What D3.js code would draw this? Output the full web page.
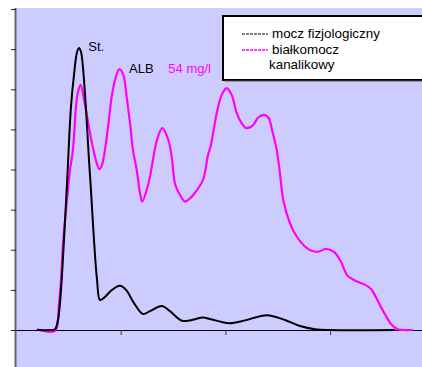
<!DOCTYPE html>
<html><head><meta charset="utf-8">
<script src="https://cdn.jsdelivr.net/npm/d3@7"></script>
<style>html,body{margin:0;padding:0;background:#fff;}svg{display:block;}</style>
</head><body>
<script>
// Data (x: migration distance units, y: relative absorbance)
const seriesNames = ["mocz fizjologiczny", "białkomocz", "kanalikowy"];
const blackX = [2.0,3.25,3.72,4.01,4.30,4.58,4.87,5.25,5.54,5.83,6.02,6.21,6.40,6.69,6.97,7.16,7.45,7.74,8.02,8.40,9.17,9.93,10.51,11.27,12.13,12.80,13.94,14.71,15.85,16.81,17.86,18.62,20.34,21.87,23.97,25.69,27.13,28.56,29.99,36.2];
const blackY = [0,0,0.02,0.25,1.0,2.24,3.64,5.56,6.36,6.93,7.03,6.93,6.53,5.49,4.24,3.49,2.24,1.25,0.75,0.80,1.0,1.10,1.0,0.67,0.40,0.47,0.60,0.47,0.23,0.25,0.31,0.27,0.17,0.24,0.37,0.25,0.10,0.02,0,0];
const magX = [2.01,2.58,3.15,3.72,3.92,4.11,4.30,4.49,4.87,5.16,5.44,5.73,5.92,6.18,6.50,6.88,7.33,7.71,7.96,8.21,8.50,8.79,9.14,9.46,9.87,10.25,10.57,10.89,11.17,11.53,11.84,12.06,12.48,12.80,13.08,13.47,13.97,14.55,14.87,15.19,15.57,16.14,16.62,17.10,17.86,18.34,18.62,19.17,19.65,20.11,20.60,21.08,21.56,22.02,22.66,23.11,23.69,24.12,24.45,24.90,25.21,25.53,26.17,26.81,27.60,28.18,28.84,29.61,30.40,31.04,31.68,32.64,33.33,33.91,34.38,34.86,35.34,35.82,36.46,37.06,37.89];
const magY = [0.02,-0.02,-0.05,-0.02,0.07,0.65,1.25,2.14,3.24,3.99,4.49,5.56,5.94,6.11,5.74,5.19,4.56,4.16,4.01,4.11,4.49,5.06,5.81,6.23,6.50,6.36,5.81,5.16,4.49,3.99,3.42,3.20,3.49,3.82,4.24,4.74,5.03,4.74,4.32,3.64,3.41,3.20,3.28,3.42,3.74,4.36,4.61,5.40,5.86,6.03,5.86,5.41,5.15,5.03,5.11,5.29,5.36,5.29,4.99,4.49,3.91,3.24,2.66,2.33,2.08,1.98,1.95,2.02,1.94,1.70,1.35,1.20,1.13,1.02,0.82,0.57,0.35,0.15,0.02,0,0];
const xTicks = [0,10,20,30];
const yTicks = [0,1,2,3,4,5,6,7,8];
const annotations = ["St.", "ALB", "54 mg/l"];
const annX = [6.9, 10.8, 14.55];
const annY = [6.95, 6.41, 6.41];

const W = 422, H = 367;
const svg = d3.select("body").append("svg").attr("width", W).attr("height", H);
const x = d3.scaleLinear().domain([0, 38.78]).range([16, 422]);
const y = d3.scaleLinear().domain([0, 8]).range([330, 9]);

// plot area
svg.append("rect").attr("x", 16).attr("y", 8).attr("width", W - 16).attr("height", H - 8).attr("fill", "#CCCCFF");

// x axis (zero line)
const xAxis = svg.append("g").attr("transform", `translate(0,${y(0)})`)
  .call(d3.axisBottom(x).tickValues(xTicks).tickSize(5).tickFormat(""));
xAxis.select(".domain").attr("d", `M11,0.5H${W}`).attr("stroke", "#000").attr("stroke-width", 1);
xAxis.selectAll(".tick line").attr("stroke", "#333");
xAxis.selectAll(".tick").filter(d => d === 0).remove();

// y axis
const yAxis = svg.append("g").attr("transform", `translate(16,0)`)
  .call(d3.axisLeft(y).tickValues(yTicks).tickSize(5).tickFormat(""));
yAxis.select(".domain").attr("d", `M-0.5,8V${H}`).attr("stroke", "#666").attr("stroke-width", 2);
yAxis.selectAll(".tick line").attr("stroke", "#222");

const line = d3.line().x(d => x(d[0])).y(d => y(d[1])).curve(d3.curveCatmullRom.alpha(0.5));
svg.append("path").datum(magX.map((v, i) => [v, magY[i]]))
  .attr("d", line).attr("fill", "none").attr("stroke", "#FF00FF").attr("stroke-width", 2.2)
  .attr("stroke-linejoin", "round");
svg.append("path").datum(blackX.map((v, i) => [v, blackY[i]]))
  .attr("d", line).attr("fill", "none").attr("stroke", "#000").attr("stroke-width", 2)
  .attr("stroke-linejoin", "round");

// annotations
const annColors = ["#000", "#000", "#FF00FF"];
annotations.forEach((t, i) => {
  svg.append("text").attr("x", x(annX[i])).attr("y", y(annY[i]))
    .attr("font-family", "Liberation Sans, Arial, sans-serif").attr("font-size", 13)
    .attr("fill", annColors[i]).text(t);
});

// legend
const lg = svg.append("g");
lg.append("rect").attr("x", 223).attr("y", 16).attr("width", 220).attr("height", 64)
  .attr("fill", "#fff").attr("stroke", "#000").attr("stroke-width", 2);
lg.append("line").attr("x1", 225).attr("x2", 445).attr("y1", 81).attr("y2", 81).attr("stroke", "#555").attr("stroke-width", 1);
lg.append("line").attr("x1", 242).attr("x2", 268).attr("y1", 34).attr("y2", 34)
  .attr("stroke", "#000").attr("stroke-width", 1.2).attr("stroke-dasharray", "3,1");
lg.append("line").attr("x1", 242).attr("x2", 268).attr("y1", 50).attr("y2", 50)
  .attr("stroke", "#FF00FF").attr("stroke-width", 1.5).attr("stroke-dasharray", "3,1");
const lx = [272, 272, 269], ly = [37.5, 53.5, 68.5];
seriesNames.forEach((t, i) => {
  lg.append("text").attr("x", lx[i]).attr("y", ly[i])
    .attr("font-family", "Liberation Sans, Arial, sans-serif").attr("font-size", 13.4)
    .attr("fill", "#000").text(t);
});
</script>
</body></html>
